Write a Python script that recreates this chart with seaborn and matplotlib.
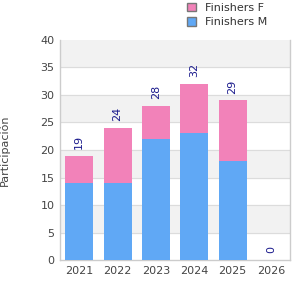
import numpy as np
import pandas as pd
import matplotlib
matplotlib.use("Agg")
import matplotlib.pyplot as plt
import seaborn as sns
from matplotlib.patches import Patch

years = ["2021", "2022", "2023", "2024", "2025", "2026"]
finishers_m = [14, 14, 22, 23, 18, 0]
finishers_f = [5, 10, 6, 9, 11, 0]
totals = [m + f for m, f in zip(finishers_m, finishers_f)]

blue = "#60a8f5"
pink = "#f282b9"

sns.set_style("white")
plt.rcParams["font.family"] = ["DejaVu Sans"]

df = pd.DataFrame({"year": years, "M": finishers_m, "total": totals})

fig = plt.figure(figsize=(3, 3), dpi=100)
ax = fig.add_axes([0.2, 0.133, 0.767, 0.734])

# alternating background bands
for lo in range(5, 40, 10):
    ax.axhspan(lo, lo + 5, color="#f2f2f2", zorder=0)
for y in range(5, 40, 5):
    ax.axhline(y, color="#dcdcdc", lw=0.8, zorder=0.5)

sns.barplot(data=df, x="year", y="total", color=pink, width=0.73,
            saturation=1, linewidth=0, ax=ax, zorder=2)
sns.barplot(data=df, x="year", y="M", color=blue, width=0.73,
            saturation=1, linewidth=0, ax=ax, zorder=3)

for i, t in enumerate(totals):
    ax.text(i, t + 1.2, str(t), rotation=90, ha="center", va="bottom",
            fontsize=8, color="#1a1a8c", zorder=4)

ax.set_ylim(0, 40)
ax.set_xlim(-0.5, 5.5)
ax.set_yticks(range(0, 41, 5))
ax.set_xlabel("")
ax.set_ylabel("Participación", fontsize=8, color="#444444", labelpad=22)
ax.tick_params(axis="both", labelsize=8, colors="#444444", length=0, pad=4)
for side in ["left", "bottom", "right"]:
    ax.spines[side].set_color("#cccccc")
    ax.spines[side].set_linewidth(1)
ax.spines["top"].set_visible(False)

handles = [Patch(facecolor=pink, edgecolor="#777777", label="Finishers F"),
           Patch(facecolor=blue, edgecolor="#777777", label="Finishers M")]
fig.legend(handles=handles, loc="upper left", bbox_to_anchor=(0.59, 1.025),
           frameon=False, fontsize=8, handlelength=0.8, handleheight=0.8,
           labelspacing=0.4, handletextpad=0.8, labelcolor="#333333")

fig.savefig("out.png", dpi=100)
